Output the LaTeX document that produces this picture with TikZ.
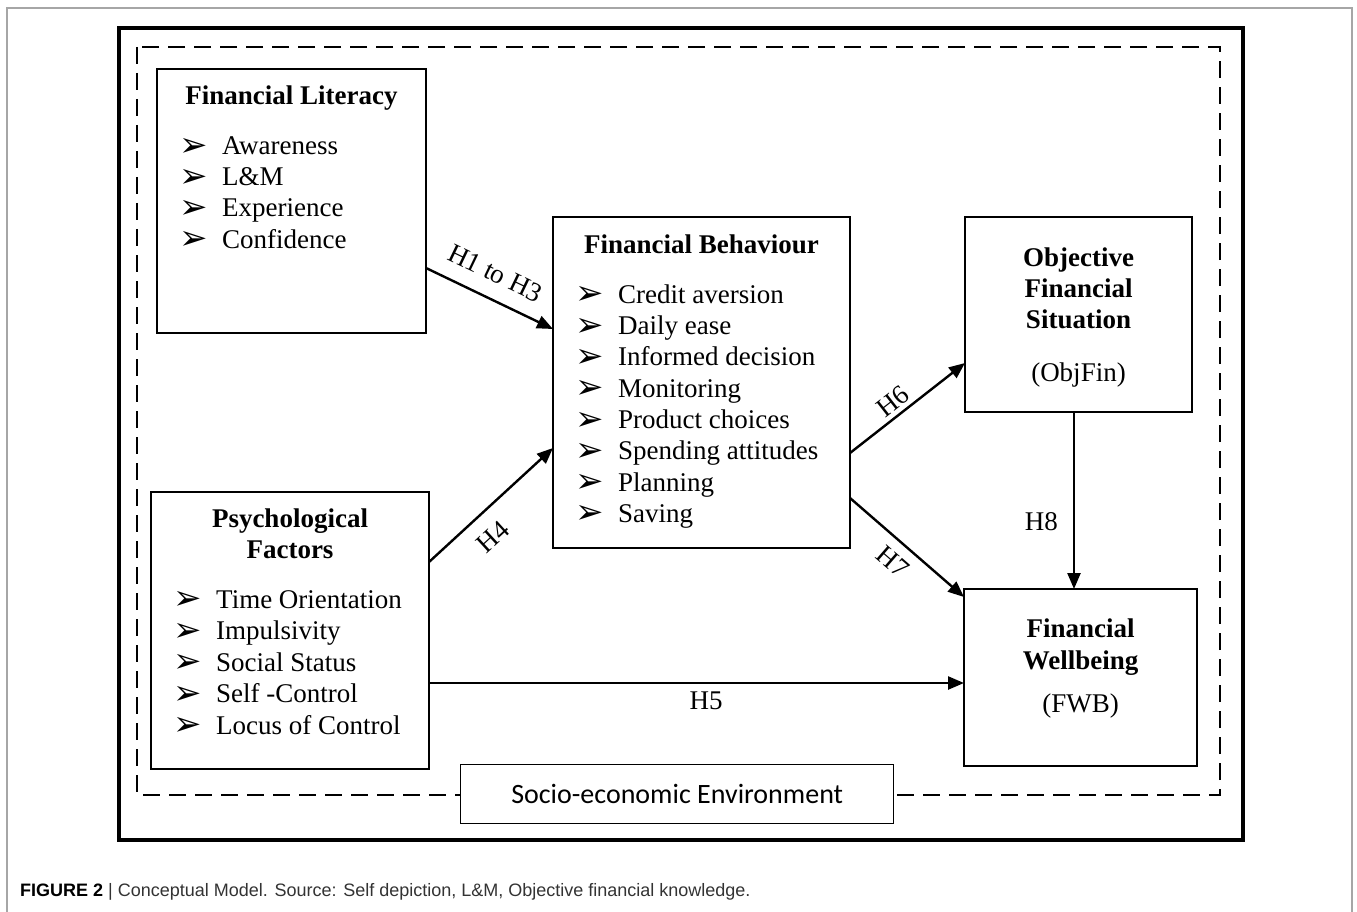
\documentclass[tikz,border=0pt]{standalone}
\usepackage{fontspec}
\setmainfont{Liberation Serif}
\newfontfamily\dingfont{DejaVu Sans}
\newfontfamily\envfont{Carlito}
\newfontfamily\capfont{Liberation Sans}
\usetikzlibrary{arrows.meta,positioning,calc}
\newcommand{\bul}{\makebox[43pt][l]{\raisebox{-1.5pt}{\dingfont\fontsize{34}{34}\selectfont ➢}}}
\tikzset{
  box/.style={ % one of the five concept boxes
    draw, line width=2.4pt, anchor=north west,
    inner sep=0pt, outer sep=0pt
  },
  head/.style={font=\fontsize{27}{31}\selectfont\bfseries, anchor=base, inner sep=0pt},
  item/.style={font=\fontsize{27}{31}\selectfont, anchor=base west, inner sep=0pt},
  hyp/.style={font=\fontsize{27}{31}\selectfont, inner sep=0pt},
  arr/.style={line width=2.4pt, -{Triangle[length=16pt,width=13pt]}},
  envbox/.style={ % label box on the dashed border
    draw, line width=1.4pt, fill=white, anchor=north west,
    inner sep=0pt, font=\envfont\fontsize{28}{30}\selectfont
  }
}
\begin{document}
\begin{tikzpicture}[x=1pt, y=-1pt]
  \useasboundingbox (0,0) rectangle (1357,912);

  % frames
  \draw[gray!70, line width=1.2pt] (7,912) |- (1352,8) -- (1352,912);
  \draw[line width=4.5pt] (119,28) rectangle (1243,840);
  \draw[line width=2.4pt, dash pattern=on 17pt off 9pt] (137,47) rectangle (1220,795);

  % boxes
  \node[box, minimum width=269pt, minimum height=264pt] (lit) at (157,69) {};
  \node[box, minimum width=297pt, minimum height=331pt] (beh) at (553,217) {};
  \node[box, minimum width=227pt, minimum height=195pt] (obj) at (965,217) {};
  \node[box, minimum width=278pt, minimum height=277pt] (psy) at (151,492) {};
  \node[box, minimum width=233pt, minimum height=177pt] (fwb) at (964,589) {};
  \node[envbox, minimum width=433pt, minimum height=59pt] (env) at (460,764) {Socio-economic Environment};

  % headings
  \node[head] (litHead) at ([yshift=-36pt]lit.north) {Financial Literacy};
  \node[head] (behHead) at ([yshift=-36pt]beh.north) {Financial Behaviour};
  \node[head] (psyHead1) at ([yshift=-35pt]psy.north) {Psychological};
  \node[head] (psyHead2) at ([yshift=-66pt]psy.north) {Factors};
  \foreach \txt/\dy [count=\i] in {Objective/49, Financial/80, Situation/111}
    \node[head] (objHead\i) at ([yshift=-\dy pt]obj.north) {\txt};
  \node[hyp, anchor=base] (objAbbr) at ([yshift=-164pt]obj.north) {(ObjFin)};
  \node[head] (fwbHead1) at ([yshift=-48pt]fwb.north) {Financial};
  \node[head] (fwbHead2) at ([yshift=-80pt]fwb.north) {Wellbeing};
  \node[hyp, anchor=base] (fwbAbbr) at ([yshift=-123pt]fwb.north) {(FWB)};

  % bullet lists
  \foreach \txt [count=\i] in {Awareness, L\&M, Experience, Confidence}
    \node[item] (lit-\i) at ([xshift=22pt, yshift={-55pt-31pt*\i}]lit.north west) {\bul\txt};
  \foreach \txt [count=\i] in {Credit aversion, Daily ease, Informed decision, Monitoring,
      Product choices, Spending attitudes, Planning, Saving}
    \node[item] (beh-\i) at ([xshift=22pt, yshift={-55pt-31.3pt*\i}]beh.north west) {\bul\txt};
  \foreach \txt [count=\i] in {Time Orientation, Impulsivity, Social Status, Self -Control,
      Locus of Control}
    \node[item] (psy-\i) at ([xshift=22pt, yshift={-84.4pt-31.6pt*\i}]psy.north west) {\bul\txt};

  % hypotheses
  \draw[arr] ([yshift=-67pt]lit.east) -- ([yshift=53.5pt]beh.west)
    node[hyp, sloped, above=15pt, pos=.46] (h1) {H1 to H3};
  \draw[arr] ([yshift=68.5pt]psy.east) -- ([yshift=-65.5pt]beh.west)
    node[hyp, sloped, below=15pt, pos=.38] (h4) {H4};
  \draw[arr] ([yshift=-52.5pt]psy.east) coordinate (h5s) -- (h5s -| fwb.west)
    node[hyp, below=8pt, pos=.518] (h5) {H5};
  \draw[arr] ([yshift=-70.5pt]beh.east) -- ([yshift=-48.5pt]obj.west)
    node[hyp, sloped, above=4pt, pos=.45] (h6) {H6};
  \draw[arr] ([yshift=-115.5pt]beh.east) -- ([yshift=80.5pt]fwb.west)
    node[hyp, sloped, below=10pt, pos=.49] (h7) {H7};
  \draw[arr] ([xshift=-4.5pt]obj.south) coordinate (h8s) -- (h8s |- fwb.north)
    node[hyp, left=15pt, pos=.62] (h8) {H8};

  % caption
  \node[anchor=base west, inner sep=0pt, text=black!80, font=\capfont\fontsize{18}{20}\selectfont] (cap)
    at (20,896) {\textbf{\color{black}FIGURE 2} | Conceptual Model. Source: Self depiction, L\&M, Objective financial knowledge.};
\end{tikzpicture}
\end{document}
